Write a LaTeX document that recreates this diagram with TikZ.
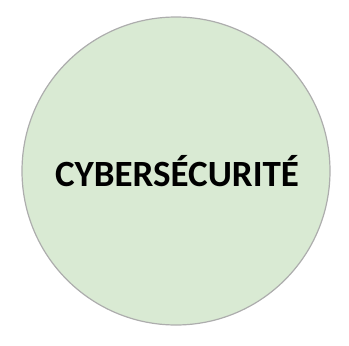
\documentclass[tikz,border=0pt]{standalone}
\usepackage{fontspec}
\setmainfont{Carlito}
\definecolor{circfill}{HTML}{D9EAD3}
\definecolor{circline}{HTML}{ADADAD}
\begin{document}
\begin{tikzpicture}[x=1pt,y=-1pt,
  bubble/.style={circle, draw=circline, line width=1.2pt, fill=circfill, minimum size=308pt, inner sep=0pt},
  label/.style={font=\fontsize{37}{44}\selectfont\bfseries, text=black}]
\useasboundingbox (0,0) rectangle (349,346);
\node[bubble] (c) at (176,171) {};
\node[label] (t) at (177,171) {CYBERSÉCURITÉ};
\end{tikzpicture}
\end{document}
